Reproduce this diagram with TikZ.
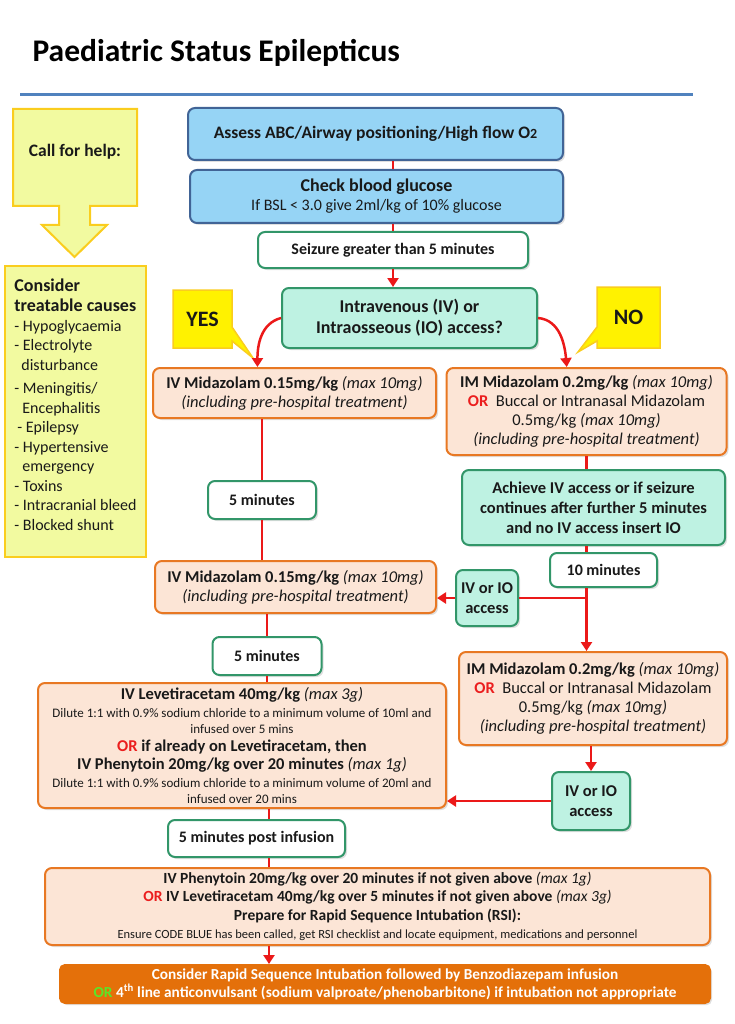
\documentclass[tikz,border=0pt]{standalone}
\usepackage{fontspec}
\setmainfont{Carlito}
\usetikzlibrary{positioning,calc,shapes.callouts,shadows,arrows.meta}

\definecolor{ink}{RGB}{25,25,25}
\definecolor{bluefill}{RGB}{150,212,245}
\definecolor{blueedge}{RGB}{65,100,150}
\definecolor{greenedge}{RGB}{50,150,105}
\definecolor{tealfill}{RGB}{190,242,226}
\definecolor{orangeedge}{RGB}{232,120,35}
\definecolor{peach}{RGB}{252,229,214}
\definecolor{tagfill}{RGB}{255,242,0}
\definecolor{tagedge}{RGB}{250,205,30}
\definecolor{causefill}{RGB}{242,250,160}
\definecolor{flowred}{RGB}{235,25,25}
\definecolor{rulebl}{RGB}{80,130,190}
\definecolor{rsifill}{RGB}{228,112,10}
\definecolor{orred}{RGB}{235,30,30}
\definecolor{orgreen}{RGB}{90,230,40}

\newcommand{\setfs}[2]{\fontsize{#1}{#2}\selectfont}

\begin{document}
\begin{tikzpicture}[x=1pt,y=-1pt,
    box/.style={rounded corners=7pt,line width=2pt,align=center,inner sep=2pt,text=ink,
                drop shadow={opacity=0.25,shadow xshift=2pt,shadow yshift=-2pt}},
    bluebox/.style={box,draw=blueedge,fill=bluefill},
    greenbox/.style={box,draw=greenedge,fill=white,font=\bfseries\setfs{16}{19}},
    tealbox/.style={box,draw=greenedge,fill=tealfill,font=\bfseries\setfs{16.5}{19.5}},
    orangebox/.style={box,draw=orangeedge,fill=peach,font=\setfs{16.5}{19}},
    tag/.style={rectangle callout,draw=tagedge,fill=tagfill,line width=1.5pt,
                callout pointer width=14pt,font=\bfseries\setfs{22}{22},text=ink},
    flow/.style={draw=flowred,line width=2.5pt,-{Triangle[width=11pt,length=9pt]}},
    link/.style={draw=flowred,line width=2.5pt}]
  \useasboundingbox (0,0) rectangle (734,1024);

  % title
  \node[anchor=base west,font=\bfseries\setfs{31.5}{32},text=black] (title) at (29,62) {Paediatric Status Epilepticus};
  \draw[rulebl,line width=3pt] (20,95) -- (693,95);

  % left column
  \draw[fill=causefill,draw=tagedge,line width=2pt]
    (13,109) -- (137,109) -- (137,206) -- (90,206) -- (90,225) -- (107,225) -- (74.5,257)
    -- (42,225) -- (59,225) -- (59,206) -- (13,206) -- cycle;
  \node[font=\bfseries\setfs{17.5}{20},text=ink] (help) at (75,152) {Call for help:};
  \node[draw=tagedge,fill=causefill,line width=2pt,minimum width=141,minimum height=291,
        align=left,text=ink,font=\setfs{16}{19.5}] (causes) at (75.5,411.5)
    {{\bfseries\setfs{18}{21}Consider}\\[1pt]
     {\bfseries\setfs{18}{21}treatable causes}\\
     - Hypoglycaemia\\
     - Electrolyte\\
     \hspace*{7pt}disturbance\\[4pt]
     - Meningitis/\\
     \hspace*{8pt}Encephalitis\\
     \hspace*{3pt}- Epilepsy\\
     - Hypertensive\\
     \hspace*{8pt}emergency\\
     - Toxins\\
     - Intracranial bleed\\
     - Blocked shunt\\[-5pt]\mbox{}};

  % main flow
  \node[bluebox,minimum width=375,minimum height=52,font=\bfseries\setfs{17.5}{21}] (assess) at (375.5,134)
    {Assess ABC/Airway positioning/High flow O{\setfs{14}{14}2}};
  \node[bluebox,minimum width=373,minimum height=53,font=\setfs{16}{19}] (glucose) at (376.5,196.5)
    {{\bfseries\setfs{18}{21}Check blood glucose}\\If BSL < 3.0 give 2ml/kg of 10\% glucose};
  \node[greenbox,minimum width=270,minimum height=36] (seizure) at (393,250) {Seizure greater than 5 minutes};
  \node[tealbox,minimum width=255,minimum height=60,font=\bfseries\setfs{18}{21}] (access) at (409.5,318)
    {Intravenous (IV) or\\Intraosseous (IO) access?};
  \node[tag,minimum width=59,minimum height=58,callout absolute pointer={(253,358)}] (yes) at (202.5,319) {YES};
  \node[tag,minimum width=63,minimum height=61,callout absolute pointer={(578,352)}] (no) at (628.5,317.5) {NO};

  \node[orangebox,minimum width=283,minimum height=50] (ivmid) at (294.5,393)
    {{\bfseries IV Midazolam 0.15mg/kg} \textit{(max 10mg)}\\\textit{(including pre-hospital treatment)}};
  \node[orangebox,minimum width=280,minimum height=87] (immid) at (586.5,411.5)
    {{\bfseries IM Midazolam 0.2mg/kg} \textit{(max 10mg)}\\
     {\bfseries\color{orred}OR}\ \ Buccal or Intranasal Midazolam\\
     0.5mg/kg \textit{(max 10mg)}\\
     \textit{(including pre-hospital treatment)}};
  \node[greenbox,minimum width=108,minimum height=38] (fivea) at (262,500) {5 minutes};
  \node[tealbox,minimum width=263,minimum height=75,font=\bfseries\setfs{16.5}{20}] (achieve) at (593.5,507.5)
    {Achieve IV access or if seizure\\continues after further 5 minutes\\and no IV access insert IO};
  \node[greenbox,minimum width=107,minimum height=34] (tenmin) at (603.5,570) {10 minutes};
  \node[tealbox,minimum width=62,minimum height=56] (ivioa) at (487,598) {IV or IO\\access};
  \node[orangebox,minimum width=281,minimum height=52] (ivmidb) at (295.5,587)
    {{\bfseries IV Midazolam 0.15mg/kg} \textit{(max 10mg)}\\\textit{(including pre-hospital treatment)}};
  \node[greenbox,minimum width=109,minimum height=38] (fiveb) at (267,656) {5 minutes};
  \node[orangebox,minimum width=268,minimum height=93] (immidb) at (593,698.5)
    {{\bfseries IM Midazolam 0.2mg/kg} \textit{(max 10mg)}\\
     {\bfseries\color{orred}OR}\ \ Buccal or Intranasal Midazolam\\
     0.5mg/kg \textit{(max 10mg)}\\
     \textit{(including pre-hospital treatment)}};
  \node[orangebox,minimum width=408,minimum height=125,font=\setfs{16.5}{18}] (leve) at (242,745.5)
    {{\bfseries IV Levetiracetam 40mg/kg} \textit{(max 3g)}\\
     {\setfs{13}{15}Dilute 1:1 with 0.9\% sodium chloride to a minimum volume of 10ml and}\\[-2pt]
     {\setfs{13}{15}infused over 5 mins}\\
     {\bfseries{\color{orred}OR} if already on Levetiracetam, then}\\
     {\bfseries IV Phenytoin 20mg/kg over 20 minutes} \textit{(max 1g)}\\
     {\setfs{13}{15}Dilute 1:1 with 0.9\% sodium chloride to a minimum volume of 20ml and}\\[-2pt]
     {\setfs{13}{15}infused over 20 mins}};
  \node[tealbox,minimum width=78,minimum height=58] (ivioab) at (591,801) {IV or IO\\access};
  \node[greenbox,minimum width=177,minimum height=37] (post) at (256.5,838.5) {5 minutes post infusion};
  \node[orangebox,minimum width=665,minimum height=77,font=\bfseries\setfs{15.5}{18.5}] (pheny) at (377.5,906.5)
    {IV Phenytoin 20mg/kg over 20 minutes if not given above {\mdseries\itshape (max 1g)}\\
     {\color{orred}OR} IV Levetiracetam 40mg/kg over 5 minutes if not given above {\mdseries\itshape (max 3g)}\\
     Prepare for Rapid Sequence Intubation (RSI):\\
     {\mdseries\setfs{12.5}{14}Ensure CODE BLUE has been called, get RSI checklist and locate equipment, medications and personnel}};
  \node[box,draw=rsifill,fill=rsifill,rounded corners=5pt,minimum width=650,minimum height=38,
        text=white,font=\bfseries\setfs{15.3}{18}] (rsi) at (385,984)
    {Consider Rapid Sequence Intubation followed by Benzodiazepam infusion\\
     {\color{orgreen}OR} 4\textsuperscript{th} line anticonvulsant (sodium valproate/phenobarbitone) if intubation not appropriate};

  \coordinate (lcol) at (269,0);

  % connectors
  \draw[link] (assess.south -| seizure.north) -- (glucose.north -| seizure.north);
  \draw[link] (glucose.south -| seizure.north) -- (seizure.north);
  \draw[flow] (seizure.south) -- (seizure.south |- access.north);
  \draw[flow] (access.west) to[out=195,in=90] ($(ivmid.north west)!0.37!(ivmid.north east)$);
  \draw[flow] (access.east) to[out=-5,in=95] ($(immid.north west)!0.43!(immid.north east)$);
  \draw[link] (ivmid.south -| fivea.north) -- (fivea.north);
  \draw[link] (fivea.south) -- (fivea.south |- ivmidb.north);
  \draw[link] (ivmidb.south -| fiveb.north) -- (fiveb.north);
  \draw[link] (fiveb.south) -- (fiveb.south |- leve.north);
  \draw[link] (immid.south) -- (immid.south |- achieve.north);
  \draw[link] (achieve.south -| immid.south) -- (tenmin.north -| immid.south);
  \coordinate (branch) at (immid.south |- ivioa.east);
  \draw[flow] (tenmin.south -| immid.south) -- (immid.south |- immidb.north);
  \draw[link] (branch) -- (ivioa.east);
  \draw[flow] (ivioa.west) -- (ivioa.west -| ivmidb.east);
  \draw[flow] (immidb.south -| ivioab.north) -- (ivioab.north);
  \draw[flow] (ivioab.west) -- (ivioab.west -| leve.east);
  \draw[link] (leve.south -| lcol) -- (post.north -| lcol);
  \draw[link] (post.south -| lcol) -- (pheny.north -| lcol);
  \draw[flow] (pheny.south -| lcol) -- (rsi.north -| lcol);
\end{tikzpicture}
\end{document}
